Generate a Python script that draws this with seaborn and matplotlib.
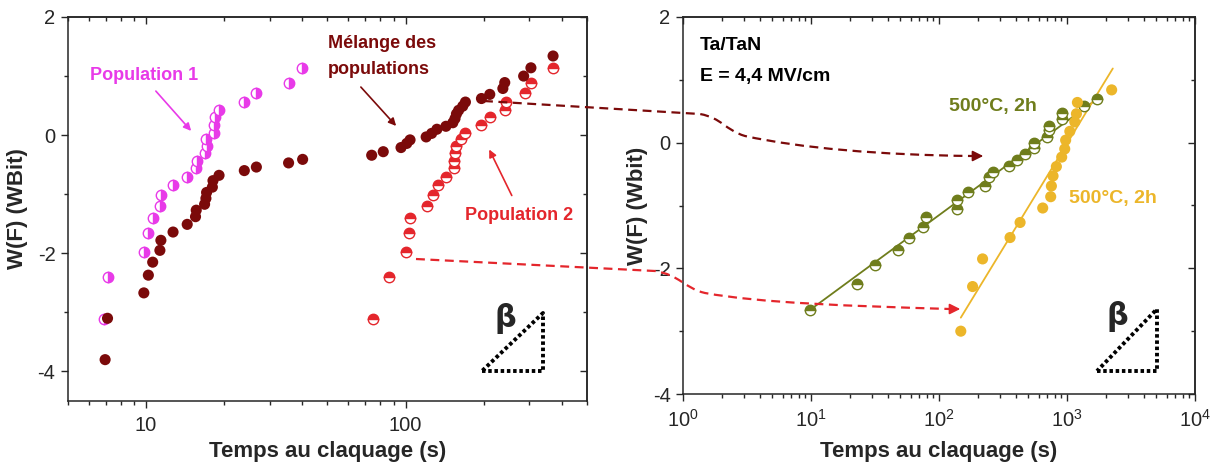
import numpy as np
import matplotlib
matplotlib.use("Agg")
import matplotlib.pyplot as plt
import seaborn as sns
from matplotlib.path import Path
from matplotlib.patches import PathPatch, FancyArrowPatch
from matplotlib.lines import Line2D
from matplotlib.ticker import (LogLocator, FixedLocator, NullFormatter,
                               FuncFormatter, MultipleLocator)

# ---- left panel : Weibull plot, mixed populations ----
pop1_t = [6.9, 7.1, 9.8, 10.2, 10.6, 11.3, 11.4, 12.7, 14.4, 15.5, 15.7,
          16.8, 17.1, 17.0, 18.2, 18.3, 18.5, 19.1, 23.9, 26.6, 35.6, 39.9]
pop1_w = [-3.12, -2.40, -1.98, -1.66, -1.41, -1.20, -1.02, -0.85, -0.71,
          -0.56, -0.44, -0.31, -0.19, -0.06, 0.04, 0.17, 0.30, 0.42, 0.56,
          0.71, 0.89, 1.14]

pop2_t = [75, 86, 100, 103, 104, 121, 127, 133, 143, 153, 154, 155, 157,
          163, 170, 196, 211, 241, 243, 288, 304, 370]
pop2_w = pop1_w

mix_t = [6.95, 7.1, 9.8, 10.2, 10.6, 11.3, 11.4, 12.7, 14.4, 15.5, 15.6,
         16.8, 17.0, 17.1, 18.0, 18.1, 19.1, 23.9, 26.6, 35.4, 40.1,
         74, 82, 96, 101, 104, 120, 126, 132, 143, 152, 155, 157, 160, 166,
         170, 196, 211, 237, 241, 285, 304, 370]
mix_w = [-3.80, -3.10, -2.67, -2.37, -2.15, -1.95, -1.78, -1.64, -1.51,
         -1.38, -1.27, -1.17, -1.07, -0.97, -0.88, -0.77, -0.68, -0.60,
         -0.54, -0.47, -0.41,
         -0.34, -0.28, -0.21, -0.14, -0.08, -0.03, 0.03, 0.10, 0.15, 0.21,
         0.28, 0.36, 0.42, 0.49, 0.56, 0.62, 0.69, 0.79, 0.89, 1.00, 1.14,
         1.34]

# ---- right panel : Ta/TaN, E = 4,4 MV/cm ----
olive_t = [9.8, 22.9, 31.6, 47.5, 58.5, 75, 79, 139, 139, 169, 228, 248,
           266, 350, 405, 470, 552, 555, 693, 723, 723, 909, 909, 1358, 1706]
olive_w = [-2.67, -2.25, -1.95, -1.71, -1.51, -1.34, -1.18, -1.05, -0.92,
           -0.79, -0.69, -0.55, -0.46, -0.37, -0.28, -0.18, -0.08, 0.00,
           0.09, 0.20, 0.27, 0.37, 0.47, 0.58, 0.70]

gold_t = [148, 183, 219, 359, 430, 646, 746, 755, 778, 826, 909, 960, 976,
          1052, 1150, 1185, 1206, 2233]
gold_w = [-3.00, -2.29, -1.85, -1.51, -1.27, -1.04, -0.86, -0.69, -0.53,
          -0.38, -0.23, -0.10, 0.04, 0.18, 0.33, 0.46, 0.64, 0.84]

# Weibull fits (beta, eta in s) and the span they are drawn over
olive_beta, olive_eta, olive_span = 0.65, 590, (10, 1750)
gold_beta, gold_eta, gold_span = 1.45, 1010, (148, 2280)

MAGENTA = "#E83AE8"
DARKRED = "#7B0A0A"
RED = "#E4262C"
OLIVE = "#6F7D1C"
GOLD = "#ECB62A"

W, H = 1217, 468

sns.set_style("ticks")
plt.rcParams["font.family"] = ["Liberation Sans", "DejaVu Sans"]
plt.rcParams["axes.linewidth"] = 1.1

fig = plt.figure(figsize=(W / 100, H / 100), dpi=100)
ax1 = fig.add_axes([68 / W, 1 - 401 / H, 519 / W, 384 / H])
ax2 = fig.add_axes([683 / W, 1 - 394 / H, 512 / W, 377 / H])


def fp(x, y):
    # pixel position (from top-left) -> figure fraction
    return (x / W, 1 - y / H)


def half_markers(ax, t, w, color, fill):
    sns.lineplot(x=t, y=w, ax=ax, estimator=None, sort=False, marker="o",
                 linestyle="", markersize=7.5, fillstyle=fill, color=color,
                 markeredgecolor=color, markerfacecoloralt="white",
                 markeredgewidth=1.0)


# left panel
sns.scatterplot(x=mix_t, y=mix_w, ax=ax1, color=DARKRED, s=64,
                edgecolor="none", zorder=3)
half_markers(ax1, pop1_t, pop1_w, MAGENTA, "right")
half_markers(ax1, pop2_t, pop2_w, RED, "top")

# right panel
for beta, eta, span, col in [(olive_beta, olive_eta, olive_span, OLIVE),
                             (gold_beta, gold_eta, gold_span, GOLD)]:
    tt = np.geomspace(span[0], span[1], 60)
    sns.lineplot(x=tt, y=beta * np.log(tt / eta), ax=ax2, color=col, lw=1.3)
half_markers(ax2, olive_t, olive_w, OLIVE, "top")
sns.scatterplot(x=gold_t, y=gold_w, ax=ax2, color=GOLD, s=64,
                edgecolor="none", zorder=3)


def style_axes(ax, xlim, ylim, major, minor, fmt, ylabel):
    ax.set_xscale("log")
    ax.set_xlim(*xlim)
    ax.set_ylim(*ylim)
    ax.xaxis.set_major_locator(major)
    ax.xaxis.set_minor_locator(minor)
    ax.xaxis.set_major_formatter(fmt)
    ax.xaxis.set_minor_formatter(NullFormatter())
    ax.yaxis.set_major_locator(MultipleLocator(2))
    ax.yaxis.set_minor_locator(MultipleLocator(1))
    ax.yaxis.set_major_formatter(FuncFormatter(lambda v, p: "%d" % v))
    ax.tick_params(which="major", direction="out", length=5, width=1.0,
                   labelsize=14.5, pad=4)
    ax.tick_params(which="minor", direction="out", length=3, width=1.0)
    ax.tick_params(axis="x", which="major", pad=6)
    for side in ["top", "right"]:
        ax.spines[side].set_visible(True)
    sx = ax.secondary_xaxis("top")
    sx.set_xscale("log")
    sx.xaxis.set_major_locator(major)
    sx.xaxis.set_minor_locator(minor)
    sx.tick_params(which="major", direction="in", length=5, width=1.0,
                   labeltop=False)
    sx.tick_params(which="minor", direction="in", length=3, width=1.0)
    sy = ax.secondary_yaxis("right")
    sy.yaxis.set_major_locator(MultipleLocator(2))
    sy.yaxis.set_minor_locator(MultipleLocator(1))
    sy.tick_params(which="major", direction="in", length=5, width=1.0,
                   labelright=False)
    sy.tick_params(which="minor", direction="in", length=3, width=1.0)
    ax.set_xlabel("Temps au claquage (s)", fontsize=16, fontweight="bold")
    ax.set_ylabel(ylabel, fontsize=16, fontweight="bold")


style_axes(ax1, (5, 500), (-4.5, 2), FixedLocator([10, 100]),
           LogLocator(base=10, subs=np.arange(2, 10), numticks=20),
           FuncFormatter(lambda v, p: "%d" % v), "W(F) (WBit)")
style_axes(ax2, (1, 1e4), (-4, 2), LogLocator(base=10, numticks=10),
           LogLocator(base=10, subs=np.arange(2, 10), numticks=20),
           FuncFormatter(lambda v, p: r"$\mathregular{10^{%d}}$" % round(np.log10(v))),
           "W(F) (Wbit)")
ax1.xaxis.set_label_coords(0.5, -0.105)
ax2.xaxis.set_label_coords(0.5, -0.125)
ax1.yaxis.set_label_coords(-0.077, 0.5)
ax2.yaxis.set_label_coords(-0.068, 0.5)

# annotations (positions in pixels of the target image)
tk = dict(fontweight="bold", va="center", ha="left")
fig.text(*fp(90, 75), "Population 1", color=MAGENTA, fontsize=13, **tk)
fig.text(*fp(328, 44), "Mélange des", color=DARKRED, fontsize=13, **tk)
fig.text(*fp(328, 70), "populations", color=DARKRED, fontsize=13, **tk)
fig.text(*fp(465, 216), "Population 2", color=RED, fontsize=13, **tk)
fig.text(*fp(700, 45), "Ta/TaN", color="black", fontsize=14, **tk)
fig.text(*fp(700, 76), "E = 4,4 MV/cm", color="black", fontsize=14, **tk)
fig.text(*fp(949, 107), "500°C, 2h", color=OLIVE, fontsize=14, **tk)
fig.text(*fp(1069, 198), "500°C, 2h", color=GOLD, fontsize=14, **tk)

for a, b, col in [((154, 89), (193, 133), MAGENTA),
                  ((359, 85), (398, 128), DARKRED),
                  ((513, 198), (488, 147), RED)]:
    fig.add_artist(FancyArrowPatch(fp(*a), fp(*b), transform=fig.transFigure,
                                   arrowstyle="-|>", mutation_scale=11,
                                   color=col, lw=1.2))

# beta triangles
for (x0, x1, yb, yt, bx, by) in [(482, 543, 371, 313, 505, 318),
                                 (1097, 1157, 371, 309, 1117, 316)]:
    xs = [x0, x1, x1, x0]
    ys = [yb, yb, yt, yb]
    pts = [fp(x, y) for x, y in zip(xs, ys)]
    fig.add_artist(Line2D([p[0] for p in pts], [p[1] for p in pts],
                          transform=fig.transFigure, color="black", lw=2.8,
                          linestyle=(0, (0.9, 0.7)), dash_capstyle="butt"))
    fig.text(*fp(bx, by), "β", fontsize=22, fontweight="bold",
             ha="center", va="center", family="DejaVu Sans")

# dashed connectors between the panels
paths = [
    ([(484, 101), (700, 114), (722, 118), (725, 130), (745, 136),
      (800, 148), (880, 155), (972, 156)], DARKRED, (972, 156), (986, 156)),
    ([(416, 259), (655, 271), (680, 275), (684, 288), (705, 293),
      (760, 303), (850, 306), (950, 309)], RED, (950, 309), (963, 309)),
]
codes = [Path.MOVETO, Path.LINETO, Path.CURVE4, Path.CURVE4, Path.CURVE4,
         Path.CURVE4, Path.CURVE4, Path.CURVE4]
for pts, col, a, b in paths:
    verts = [fp(*p) for p in pts]
    fig.add_artist(PathPatch(Path(verts, codes), transform=fig.transFigure,
                             fill=False, edgecolor=col, lw=1.6,
                             linestyle=(0, (4, 2.5))))
    fig.add_artist(FancyArrowPatch(fp(*a), fp(*b), transform=fig.transFigure,
                                   arrowstyle="-|>", mutation_scale=16,
                                   color=col, lw=1.2))

fig.savefig("out.png", dpi=100)
